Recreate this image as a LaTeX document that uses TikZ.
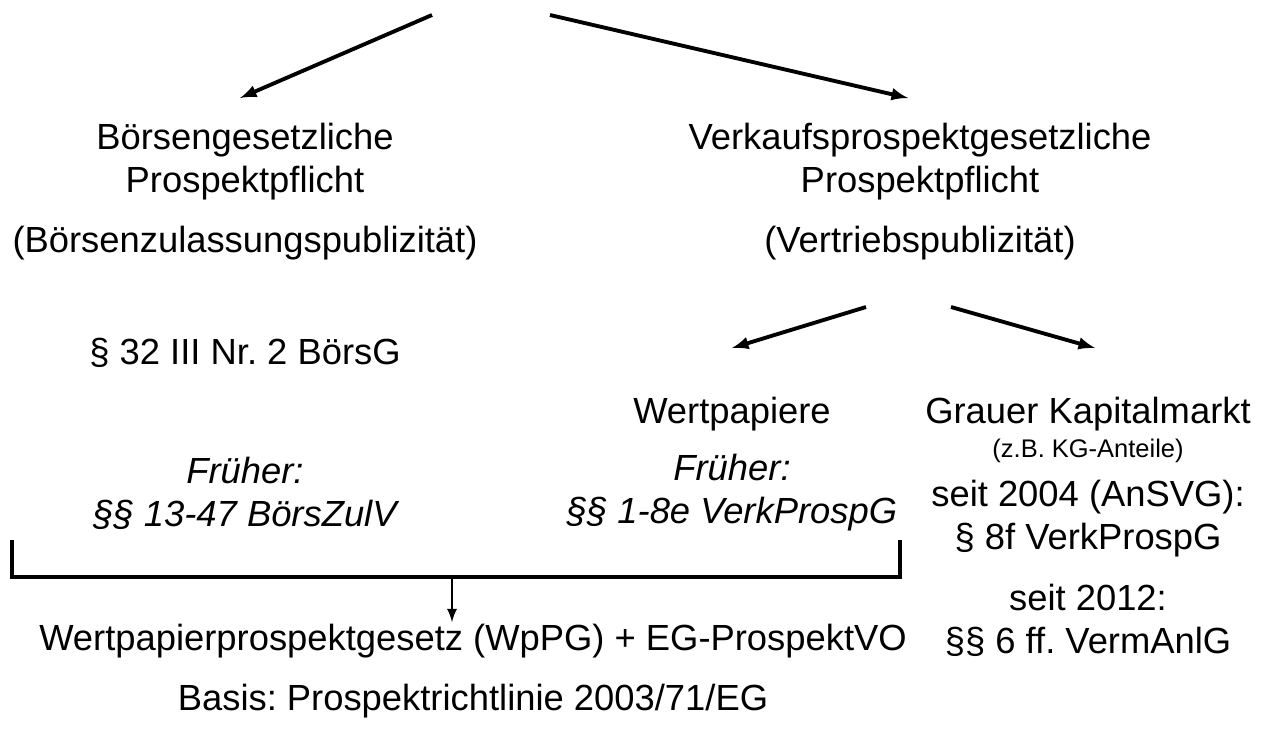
\documentclass[tikz,border=0pt]{standalone}
\usepackage{fontspec}
\setmainfont{Liberation Sans}
\usetikzlibrary{arrows}
\frenchspacing

\begin{document}
\begin{tikzpicture}[x=0.02cm,y=-0.02cm,>=latex,line width=2.2pt,
  every node/.style={font=\fontsize{20.7}{24.4}\selectfont,align=center,inner sep=0pt},
  small/.style={font=\fontsize{14.5}{17}\selectfont}]
  \useasboundingbox (0,0) rectangle (1263,731);
  % Kopf
  \coordinate (topL) at (432,15);
  \coordinate (topR) at (550,15);
  \node (boerse) at (245,162) {Börsengesetzliche\\Prospektpflicht};
  \node (zulass) at (245,243) {(Börsenzulassungspublizität)};
  \node (verkauf) at (920,162) {Verkaufsprospektgesetzliche\\Prospektpflicht};
  \node (vertrieb) at (920,243) {(Vertriebspublizität)};
  \coordinate (endL) at (240,98);
  \coordinate (endR) at (908,98);
  \draw[->] (topL) -- (endL);
  \draw[->] (topR) -- (endR);
  % links
  \node (boersg) at (245,353) {§ 32 III Nr. 2 BörsG};
  \node (frueherL) at (245,493) {\itshape Früher:\\\itshape §§ 13-47 BörsZulV};
  % rechts
  \coordinate (midL) at (866,307);
  \coordinate (midR) at (951,307);
  \node (wp) at (732,414) {Wertpapiere};
  \node (frueherR) at (732,493) {\itshape Früher:\\\itshape §§ 1-8e VerkProspG};
  \node (grau) at (1088,414) {Grauer Kapitalmarkt};
  \node[small] (kg) at (1088,451) {(z.B. KG-Anteile)};
  \node (ansvg) at (1088,519) {seit 2004 (AnSVG):\\§ 8f VerkProspG};
  \node (vermanl) at (1088,620) {seit 2012:\\§§ 6 ff. VermAnlG};
  \draw[->] (midL) -- (732,348);
  \draw[->] (midR) -- (1095,348);
  % Klammer
  \coordinate (klL) at (12,540);
  \coordinate (klR) at (900,540);
  \coordinate (klM) at (452,577);
  \draw (klL) |- (klR |- klM) -- (klR);
  \node (wppg) at (473,641) {Wertpapierprospektgesetz (WpPG) + EG-ProspektVO};
  \node (basis) at (473,701) {Basis: Prospektrichtlinie 2003/71/EG};
  \draw[->,line width=1.6pt] (klM) -- (wppg.north -| klM);
\end{tikzpicture}
\end{document}
